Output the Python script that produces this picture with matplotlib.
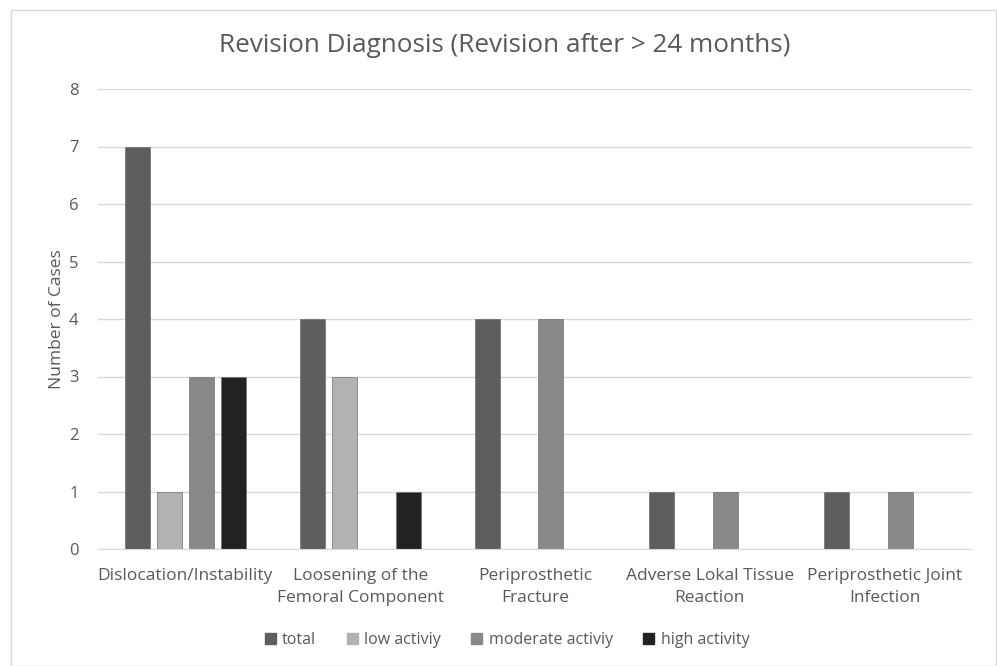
import matplotlib.pyplot as plt
import matplotlib.patches as mpatches
import numpy as np

plt.rcParams['font.family'] = ['Open Sans', 'DejaVu Sans']

categories = ['Dislocation/Instability', 'Loosening of the\nFemoral Component',
              'Periprosthetic\nFracture', 'Adverse Lokal Tissue\nReaction',
              'Periprosthetic Joint\nInfection']
series = ['total', 'low activiy', 'moderate activiy', 'high activity']
total = [7, 4, 4, 1, 1]
low = [1, 3, 0, 0, 0]
moderate = [3, 0, 4, 1, 1]
high = [3, 1, 0, 0, 0]
colors = ['#5e5e5e', '#b2b2b2', '#888888', '#222222']

W, H = 997, 666
fig = plt.figure(figsize=(W / 100, H / 100), dpi=100)
fig.patches.append(mpatches.Rectangle((11 / W, 0), (W - 12) / W, (H - 10) / H,
                                      transform=fig.transFigure, fill=False,
                                      edgecolor='#d9d9d9', linewidth=1))
ax = fig.add_axes([98 / W, 1 - 549 / H, (972 - 98) / W, (549 - 89) / H])

x = np.arange(len(categories))
bw = 0.143
step = 0.183
for i, (name, vals) in enumerate(zip(series, [total, low, moderate, high])):
    ax.bar(x + (i - 1.5) * step, vals, width=bw, color=colors[i], label=name,
           edgecolor='#707070', linewidth=0.5)

ax.set_xlim(-0.5, len(categories) - 0.5)
ax.set_ylim(0, 8)
ax.set_yticks(range(0, 9))
ax.yaxis.grid(True, color='#d9d9d9', linewidth=1)
ax.set_axisbelow(True)
for s in ['top', 'right', 'left']:
    ax.spines[s].set_visible(False)
ax.spines['bottom'].set_color('#d9d9d9')
ax.tick_params(axis='both', length=0, colors='#595959', labelsize=12.5)
ax.tick_params(axis='y', pad=14, labelsize=12)
ax.tick_params(axis='x', pad=14)
ax.set_xticks(x)
ax.set_xticklabels(categories, linespacing=1.45)
ax.set_ylabel('Number of Cases', color='#595959', fontsize=12.5, labelpad=3)

fig.text(505 / W, 1 - 45 / H, 'Revision Diagnosis (Revision after > 24 months)',
         ha='center', va='center', fontsize=18.8, color='#595959')

handles = [mpatches.Patch(color=c) for c in colors]
fig.legend(handles, series, loc='center', bbox_to_anchor=(507 / W, 1 - 640 / H),
           ncol=4, frameon=False, fontsize=11.5, handlelength=0.7,
           handleheight=0.7, handletextpad=0.4, columnspacing=1.9,
           labelcolor='#595959')

fig.savefig('out.png', dpi=100)
